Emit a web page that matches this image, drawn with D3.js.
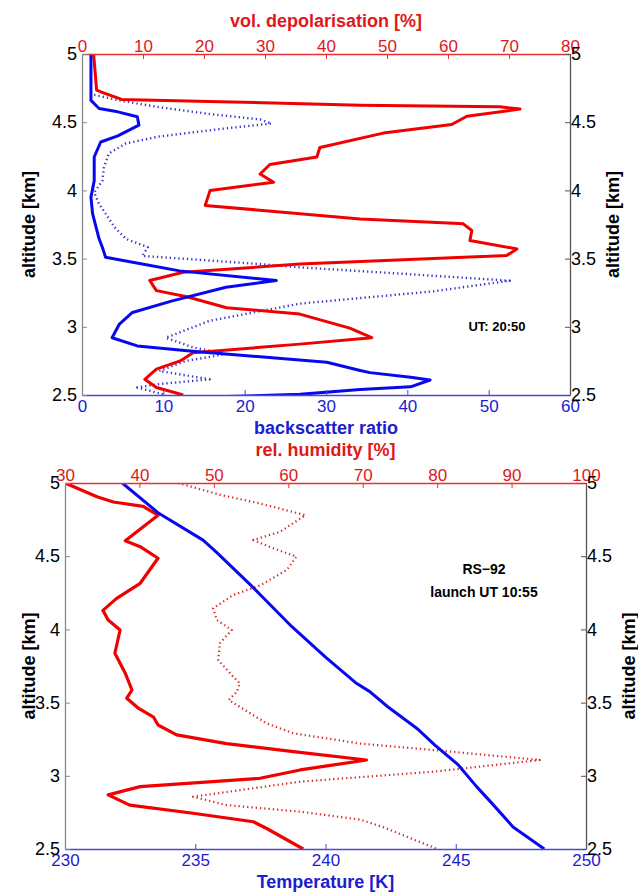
<!DOCTYPE html>
<html>
<head>
<meta charset="utf-8">
<script src="https://cdn.jsdelivr.net/npm/d3@7"></script>
<style>
  body { margin: 0; background: #fff; }
  svg text { font-family: "Liberation Sans", Arial, sans-serif; }
</style>
</head>
<body>
<div id="graf"></div>
<script>
// ---- top panel: lidar (altitude km vs value) ----
const depolAlt = [5.0, 4.735, 4.72, 4.667, 4.65, 4.625, 4.613, 4.596, 4.544, 4.483, 4.42, 4.314, 4.245, 4.19, 4.12, 4.06, 4.0, 3.89, 3.79, 3.76, 3.755, 3.706, 3.632, 3.571, 3.522, 3.46, 3.40, 3.34, 3.265, 3.22, 3.14, 3.093, 2.99, 2.92, 2.873, 2.81, 2.75, 2.69, 2.615, 2.555, 2.5]
const depolVal = [1.9, 2.4, 3.2, 6.5, 22.6, 45.6, 68.5, 71.8, 63.1, 60.6, 49.4, 39.0, 38.5, 30.8, 29.2, 31.4, 21.0, 20.2, 45.6, 60.9, 62.5, 63.9, 63.6, 71.3, 69.6, 35.7, 16.6, 11.1, 12.2, 17.2, 23.7, 35.7, 43.9, 47.5, 35.7, 18.2, 16.1, 12.2, 10.3, 12.2, 16.6]

const bsrAlt = [5.0, 4.66, 4.60, 4.576, 4.54, 4.478, 4.40, 4.355, 4.245, 4.07, 3.95, 3.83, 3.645, 3.583, 3.51, 3.46, 3.41, 3.34, 3.29, 3.19, 3.105, 3.02, 2.92, 2.86, 2.82, 2.74, 2.68, 2.664, 2.63, 2.61, 2.56, 2.54, 2.505, 2.485]
const bsrVal = [1.1, 1.1, 2.1, 4.4, 6.8, 7.0, 4.4, 2.3, 1.5, 1.5, 1.1, 1.3, 2.1, 2.5, 2.9, 7.4, 12.0, 23.9, 17.7, 11.1, 6.2, 4.6, 3.7, 6.8, 13.6, 30.1, 34.2, 35.4, 40.4, 42.8, 40.4, 34.2, 26.8, 15.7]

const bsr2Alt = [4.70, 4.655, 4.61, 4.56, 4.52, 4.49, 4.455, 4.395, 4.345, 4.27, 4.17, 4.07, 3.985, 3.90, 3.83, 3.73, 3.645, 3.583, 3.52, 3.46, 3.436, 3.39, 3.338, 3.26, 3.17, 3.044, 2.92, 2.85, 2.80, 2.75, 2.676, 2.615, 2.58, 2.555, 2.5]
const bsr2Val = [1.5, 5.0, 9.5, 15.7, 21.9, 23.3, 17.7, 9.5, 5.4, 3.3, 2.7, 2.5, 1.5, 2.1, 2.9, 4.0, 5.4, 8.1, 7.4, 21.9, 26.8, 39.1, 52.6, 43.2, 26.8, 15.7, 10.3, 13.6, 17.7, 12.8, 9.5, 15.7, 9.5, 6.8, 10.3]

// ---- bottom panel: radiosonde RS-92 ----
const tempAlt = [5.0, 4.793, 4.61, 4.53, 4.29, 4.02, 3.81, 3.63, 3.575, 3.47, 3.325, 3.21, 3.074, 2.926, 2.81, 2.65, 2.5]
const tempVal = [232.2, 233.6, 235.3, 235.8, 237.2, 238.7, 240.0, 241.2, 241.7, 242.4, 243.5, 244.2, 245.1, 245.8, 246.4, 247.2, 248.4]

const rhAlt = [5.0, 4.906, 4.87, 4.84, 4.78, 4.605, 4.565, 4.486, 4.315, 4.21, 4.13, 4.064, 3.996, 3.837, 3.70, 3.586, 3.53, 3.46, 3.40, 3.347, 3.28, 3.22, 3.165, 3.108, 3.04, 2.983, 2.926, 2.87, 2.80, 2.744, 2.686, 2.64, 2.5]
const rhVal = [30.0, 34.3, 36.5, 40.5, 42.5, 38.1, 40.1, 42.5, 40.1, 36.9, 35.1, 35.8, 37.4, 36.7, 38.1, 39.0, 38.3, 39.9, 41.9, 42.5, 45.0, 51.7, 60.7, 70.5, 61.6, 56.2, 40.1, 35.8, 38.7, 47.2, 55.3, 57.1, 62.0]

const rh2Alt = [5.0, 4.92, 4.86, 4.78, 4.667, 4.61, 4.554, 4.497, 4.406, 4.30, 4.235, 4.144, 4.064, 3.996, 3.905, 3.79, 3.677, 3.632, 3.574, 3.518, 3.47, 3.358, 3.29, 3.22, 3.176, 3.108, 3.028, 2.96, 2.857, 2.80, 2.755, 2.70, 2.65, 2.5]
const rh2Val = [45.2, 50.8, 56.2, 62.3, 58.9, 55.3, 58.0, 61.1, 59.8, 56.2, 52.6, 49.9, 50.4, 52.4, 50.8, 50.6, 52.6, 53.5, 53.1, 52.0, 53.5, 57.1, 60.7, 69.7, 79.5, 93.8, 79.5, 61.6, 47.2, 51.7, 61.6, 69.7, 72.7, 80.0]

// tick values
const altTicks = [2.5, 3, 3.5, 4, 4.5, 5]
const depolTicks = [0, 10, 20, 30, 40, 50, 60, 70, 80]
const bsrTicks = [0, 10, 20, 30, 40, 50, 60]
const rhTicks = [30, 40, 50, 60, 70, 80, 90, 100]
const tempTicks = [230, 235, 240, 245, 250]

const RED = '#f00000'
const BLUE = '#0808f0'
const RED_TXT = '#e01818'
const BLUE_TXT = '#1c1cd0'

const svg = d3.select('#graf')
  .append('svg')
  .attr('width', 638)
  .attr('height', 893)

const zip = (a, v) => a.map((d, i) => ({ alt: d, v: v[i] }))

function panel(p) {
  const y = d3.scaleLinear().domain([2.5, 5]).range([p.bottom, p.top])
  const xTop = d3.scaleLinear().domain(p.topDomain).range([p.left, p.right])
  const xBot = d3.scaleLinear().domain(p.botDomain).range([p.left, p.right])

  svg.append('clipPath').attr('id', p.id)
    .append('rect')
    .attr('x', p.left).attr('y', p.top)
    .attr('width', p.right - p.left).attr('height', p.bottom - p.top)

  const g = svg.append('g').attr('clip-path', `url(#${p.id})`)

  p.series.forEach(s => {
    const x = s.axis === 'top' ? xTop : xBot
    const line = d3.line().x(d => x(d.v)).y(d => y(d.alt))
    g.append('path')
      .datum(zip(s.alt, s.val))
      .attr('d', line)
      .attr('fill', 'none')
      .attr('stroke', s.color)
      .attr('stroke-width', s.width)
      .attr('stroke-dasharray', s.dash || null)
      .attr('stroke-linejoin', 'round')
  })

  const style = (sel, lineCol, txtCol, size) => {
    sel.select('.domain').attr('stroke', lineCol).attr('stroke-width', 1.3)
    sel.selectAll('.tick line').attr('stroke', lineCol)
    sel.selectAll('.tick text').attr('fill', txtCol).attr('font-size', size)
  }

  const gTop = svg.append('g').attr('transform', `translate(0, ${p.top})`)
    .call(d3.axisTop(xTop).tickValues(p.topTicks).tickSize(-5).tickSizeOuter(0).tickPadding(2))
  style(gTop, '#e83030', RED_TXT, 17)

  const gBot = svg.append('g').attr('transform', `translate(0, ${p.bottom})`)
    .call(d3.axisBottom(xBot).tickValues(p.botTicks).tickSize(-5).tickSizeOuter(0).tickPadding(5))
  style(gBot, '#4a4ad0', BLUE_TXT, 17)

  const gLeft = svg.append('g').attr('transform', `translate(${p.left}, 0)`)
    .call(d3.axisLeft(y).tickValues(altTicks).tickSize(-5).tickSizeOuter(0).tickPadding(5).tickFormat(d => d))
  style(gLeft, '#888', '#000', 18)

  const gRight = svg.append('g').attr('transform', `translate(${p.right}, 0)`)
    .call(d3.axisRight(y).tickValues(altTicks).tickSize(-5).tickSizeOuter(0).tickPadding(1).tickFormat(d => d))
  style(gRight, '#555', '#000', 18)

  const label = (txt, x, yy, col, rot) => svg.append('text')
    .attr('x', x).attr('y', yy)
    .attr('text-anchor', 'middle')
    .attr('dominant-baseline', 'middle')
    .attr('font-size', 18).attr('font-weight', 'bold')
    .attr('fill', col)
    .attr('transform', rot ? `rotate(-90, ${x}, ${yy})` : null)
    .text(txt)

  const mid = (p.left + p.right) / 2
  const ymid = (p.top + p.bottom) / 2
  label(p.topTitle, mid, p.top - 32, RED_TXT)
  label(p.botTitle, mid, p.bottom + 34, BLUE_TXT)
  label('altitude [km]', 30, ymid, '#000', true)
  label('altitude [km]', p.right + 44, ymid, '#000', true)
}

panel({
  id: 'clipTop', left: 82, right: 570, top: 54, bottom: 395,
  topDomain: [0, 80], botDomain: [0, 60],
  topTicks: depolTicks, botTicks: bsrTicks,
  topTitle: 'vol. depolarisation [%]', botTitle: 'backscatter ratio',
  series: [
    { alt: bsr2Alt, val: bsr2Val, axis: 'bot', color: '#3535c8', width: 2.4, dash: '1.3,3' },
    { alt: depolAlt, val: depolVal, axis: 'top', color: RED, width: 3 },
    { alt: bsrAlt, val: bsrVal, axis: 'bot', color: BLUE, width: 3 },
  ],
})

panel({
  id: 'clipBot', left: 65, right: 586, top: 483, bottom: 849,
  topDomain: [30, 100], botDomain: [230, 250],
  topTicks: rhTicks, botTicks: tempTicks,
  topTitle: 'rel. humidity [%]', botTitle: 'Temperature [K]',
  series: [
    { alt: rh2Alt, val: rh2Val, axis: 'top', color: '#d82828', width: 2.2, dash: '1.3,3' },
    { alt: rhAlt, val: rhVal, axis: 'top', color: RED, width: 3.2 },
    { alt: tempAlt, val: tempVal, axis: 'bot', color: BLUE, width: 3 },
  ],
})

// annotations
svg.append('text')
  .attr('x', 497).attr('y', 328)
  .attr('text-anchor', 'middle').attr('dominant-baseline', 'middle')
  .attr('font-size', 13).attr('font-weight', 'bold')
  .text('UT: 20:50')

svg.append('text')
  .attr('x', 484).attr('y', 570)
  .attr('text-anchor', 'middle').attr('dominant-baseline', 'middle')
  .attr('font-size', 14).attr('font-weight', 'bold')
  .text('RS\u221292')

svg.append('text')
  .attr('x', 484).attr('y', 593)
  .attr('text-anchor', 'middle').attr('dominant-baseline', 'middle')
  .attr('font-size', 14).attr('font-weight', 'bold')
  .text('launch UT 10:55')
</script>
</body>
</html>
